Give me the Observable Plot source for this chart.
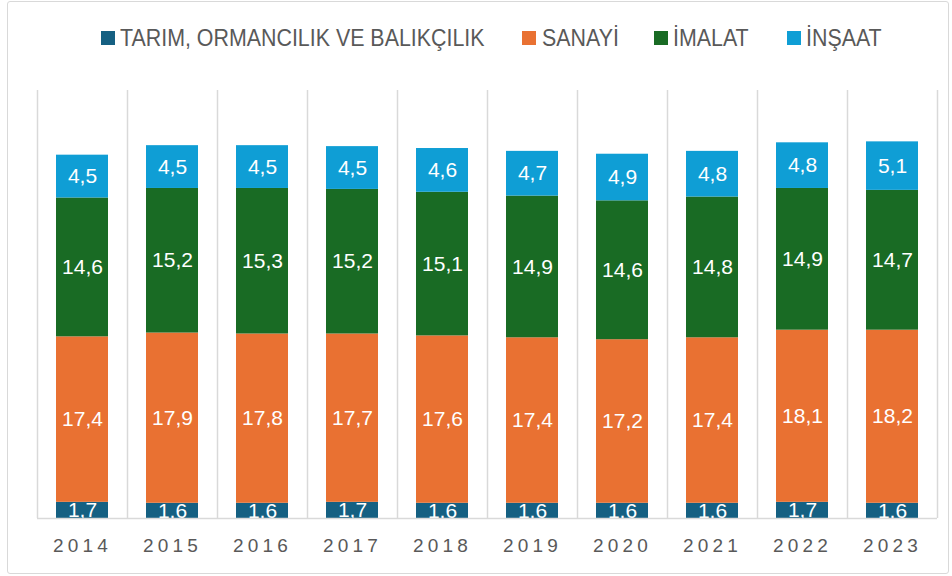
<!DOCTYPE html>
<html>
<head>
<meta charset="utf-8">
<script src="https://cdn.jsdelivr.net/npm/d3@7"></script>
<script src="https://cdn.jsdelivr.net/npm/@observablehq/plot@0.6"></script>
<style>
  html, body { margin: 0; padding: 0; background: #fff; }
  #wrap { position: relative; width: 952px; height: 576px; overflow: hidden; }
  #frame { position: absolute; left: 7px; top: 1px; width: 942px; height: 573px; border: 1px solid #d9d9d9; border-radius: 3px; box-sizing: border-box; }
  #legend { position: absolute; left: 0; top: 0; width: 952px; height: 80px;
    font-family: "Liberation Sans", Arial, sans-serif; font-size: 23px; color: #595959; }
  .sw { position: absolute; top: 31px; width: 14px; height: 14px; }
  .tx { position: absolute; top: 24px; line-height: 28px; white-space: nowrap; transform: scaleX(0.93); transform-origin: left center; }
  #chart { position: absolute; left: 0; top: 0; }
</style>
</head>
<body>
<div id="wrap">
  <div id="frame"></div>
  <div id="chart"></div>
  <div id="legend"></div>
</div>
<script>
const years = ["2014","2015","2016","2017","2018","2019","2020","2021","2022","2023"];
const seriesNames = ["TARIM, ORMANCILIK VE BALIKÇILIK", "SANAYİ", "İMALAT", "İNŞAAT"];
const seriesColors = ["#156082", "#E97132", "#196B24", "#0F9ED5"];
const tarim  = [1.7, 1.6, 1.6, 1.7, 1.6, 1.6, 1.6, 1.6, 1.7, 1.6];
const sanayi = [17.4, 17.9, 17.8, 17.7, 17.6, 17.4, 17.2, 17.4, 18.1, 18.2];
const imalat = [14.6, 15.2, 15.3, 15.2, 15.1, 14.9, 14.6, 14.8, 14.9, 14.7];
const insaat = [4.5, 4.5, 4.5, 4.5, 4.6, 4.7, 4.9, 4.8, 4.8, 5.1];

// legend item left edges (swatch, text)
const legendSwatchX = [101, 522, 654, 787];
const legendTextX = [120, 542, 673, 806];

const seriesValues = [tarim, sanayi, imalat, insaat];
const data = [];
seriesNames.forEach((s, i) => years.forEach((y, j) => data.push({year: y, series: s, value: seriesValues[i][j]})));

const fmt = v => d3.format(".1f")(v).replace(".", ",");

const W = 952, H = 576, ml = 37, mr = 15;
const half = (W - ml - mr) / years.length / 2;

const plot = Plot.plot({
  width: W, height: H,
  marginTop: 90, marginBottom: 58, marginLeft: ml, marginRight: mr,
  style: {background: "transparent"},
  x: {domain: years, paddingInner: 0.42, paddingOuter: 0.21, label: null},
  y: {domain: [0, 45], axis: null},
  color: {domain: seriesNames, range: seriesColors},
  marks: [
    Plot.ruleX(years, {x: d => d, dx: -half, stroke: "#d9d9d9", strokeWidth: 1.5, strokeOpacity: 1}),
    Plot.ruleX(years.slice(-1), {x: d => d, dx: half, stroke: "#d9d9d9", strokeWidth: 1.5, strokeOpacity: 1}),
    Plot.barY(data, Plot.stackY({x: "year", y: "value", fill: "series", order: seriesNames})),
    Plot.text(data, Plot.stackY({x: "year", y: "value", z: "series", order: seriesNames, text: d => fmt(d.value),
      fill: "white", fontSize: 21, fontFamily: "Liberation Sans, Arial, sans-serif"})),
    Plot.ruleY([0], {stroke: "#d9d9d9", strokeWidth: 1.5}),
    Plot.axisX({tickSize: 0, tickPadding: 20, fontSize: 19, fill: "#595959",
      fontFamily: "Liberation Sans, Arial, sans-serif", label: null})
  ]
});
plot.querySelectorAll('[aria-label="x-axis tick label"] text').forEach(t => t.setAttribute("letter-spacing", "4.2px"));
document.getElementById("chart").appendChild(plot);

const legend = document.getElementById("legend");
seriesNames.forEach((s, i) => {
  const sw = document.createElement("div");
  sw.className = "sw";
  sw.style.left = legendSwatchX[i] + "px";
  sw.style.background = seriesColors[i];
  const tx = document.createElement("div");
  tx.className = "tx";
  tx.style.left = legendTextX[i] + "px";
  tx.textContent = s;
  legend.appendChild(sw); legend.appendChild(tx);
});
</script>
</body>
</html>
